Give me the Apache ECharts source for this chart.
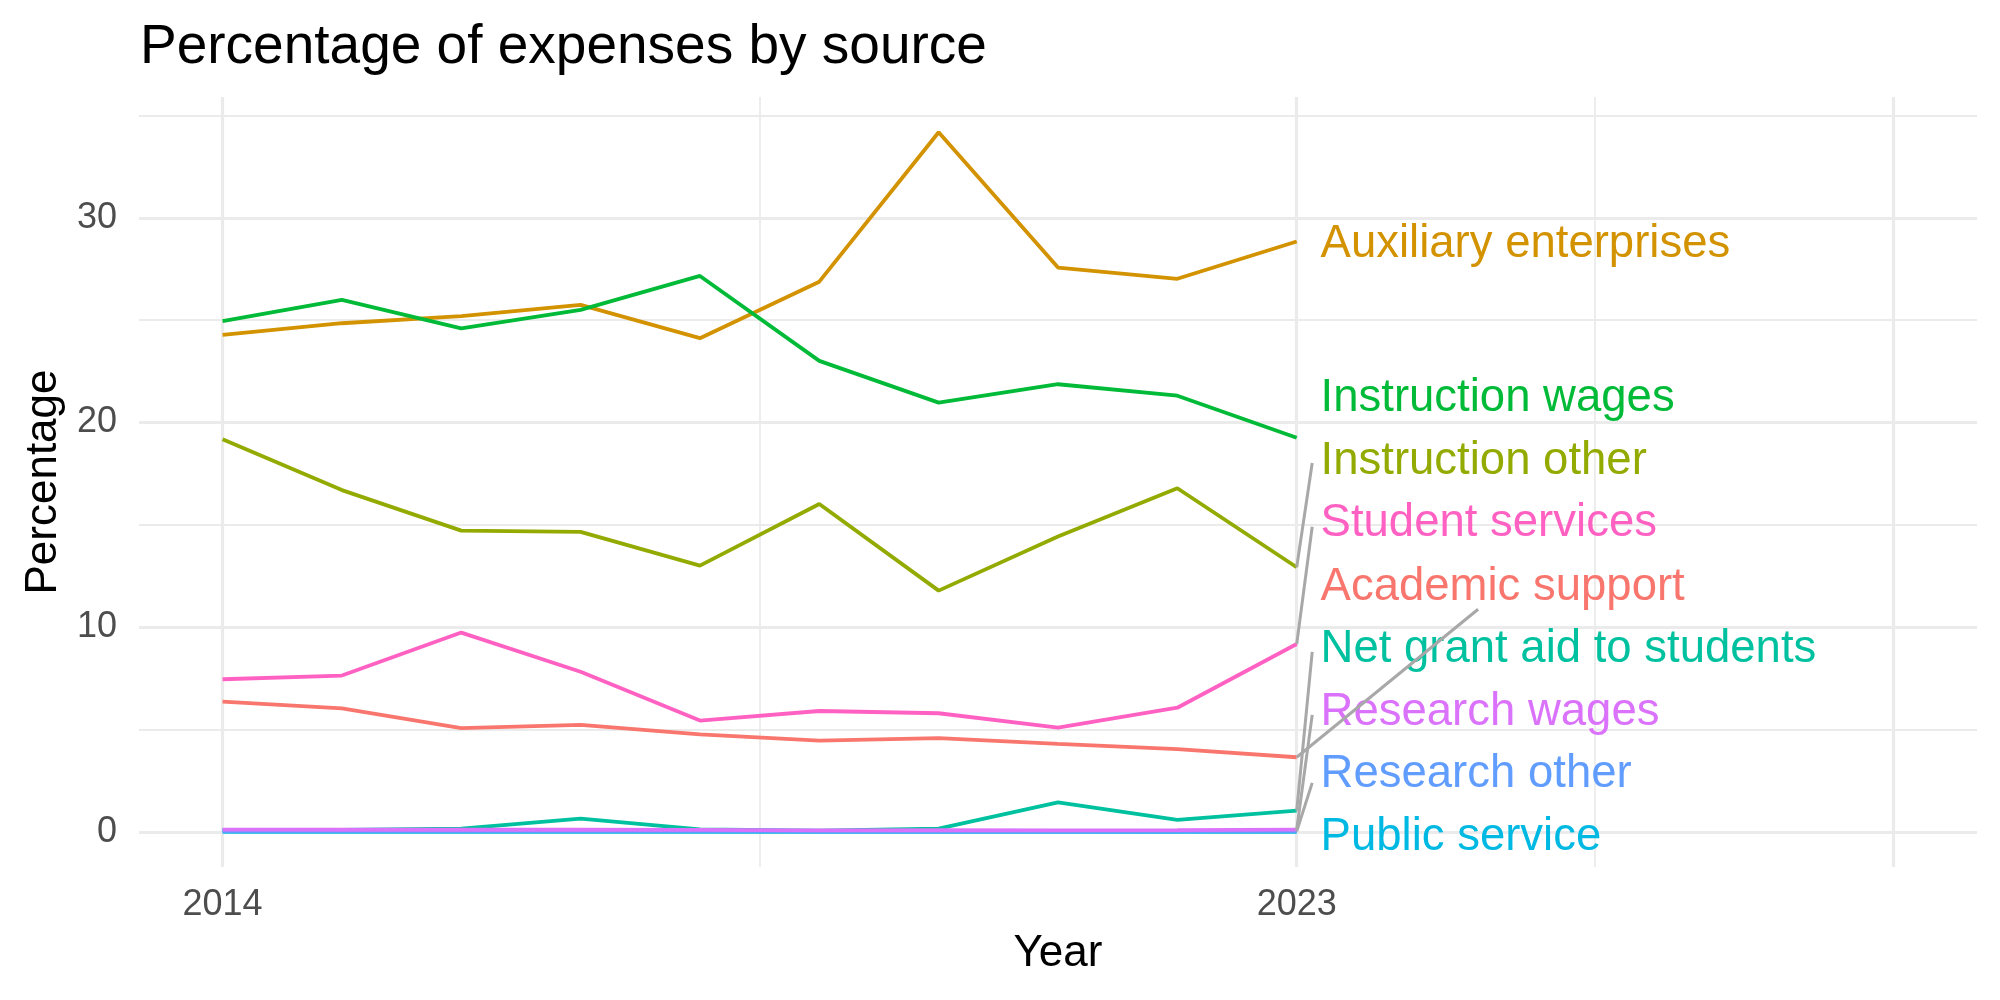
<!DOCTYPE html>
<html>
<head>
<meta charset="utf-8">
<script src="https://cdn.jsdelivr.net/npm/echarts@6/dist/echarts.min.js"></script>
<style>
  html, body { margin: 0; padding: 0; background: #fff; }
  #chart { width: 2000px; height: 1000px; }
</style>
</head>
<body>
<div id="chart"></div>
<script>
// data
const years = [2014, 2015, 2016, 2017, 2018, 2019, 2020, 2021, 2022, 2023];
const sources = [
  "Academic support", "Auxiliary enterprises", "Instruction other", "Instruction wages",
  "Net grant aid to students", "Public service", "Research other", "Research wages", "Student services"
];
const academicSupport = [6.37, 6.04, 5.07, 5.23, 4.77, 4.46, 4.58, 4.30, 4.05, 3.65];
const auxiliaryEnterprises = [24.28, 24.85, 25.2, 25.75, 24.12, 26.88, 34.18, 27.57, 27.02, 28.84];
const instructionOther = [19.18, 16.7, 14.72, 14.66, 13.01, 16.02, 11.79, 14.43, 16.79, 12.93];
const instructionWages = [24.95, 25.99, 24.6, 25.5, 27.16, 23.01, 20.97, 21.87, 21.31, 19.26];
const netGrantAid = [0.1, 0.1, 0.16, 0.65, 0.13, 0.06, 0.16, 1.45, 0.59, 1.04];
const publicService = [0.01, 0.01, 0.01, 0.01, 0.01, 0.01, 0.01, 0.01, 0.01, 0.01];
const researchOther = [0.04, 0.04, 0.04, 0.04, 0.04, 0.03, 0.03, 0.03, 0.03, 0.04];
const researchWages = [0.12, 0.11, 0.11, 0.12, 0.1, 0.08, 0.09, 0.08, 0.09, 0.12];
const studentServices = [7.46, 7.64, 9.74, 7.83, 5.44, 5.91, 5.8, 5.1, 6.07, 9.18];
const seriesValues = [
  academicSupport, auxiliaryEnterprises, instructionOther, instructionWages,
  netGrantAid, publicService, researchOther, researchWages, studentServices
];

// repelled labels (value where each label sits, and where its leader line ends)
const labelX = 2023.2;
const labelY = [11.95, 28.72, 18.1, 21.2, 8.92, -0.25, 2.8, 5.86, 15.05];
const leaderEnd = [
  [2024.52, 10.88], null, [2023.13, 18.02], null,
  [2023.13, 8.8], null, [2023.13, 2.4], [2023.13, 5.72], [2023.13, 14.91]
];

const xTicks = [2014, 2023];
const yTicks = [0, 10, 20, 30];
const xMajorGrid = [2014, 2023, 2028];
const xMinorGrid = [2018.5, 2025.5];
const yMajorGrid = [0, 10, 20, 30];
const yMinorGrid = [5, 15, 25, 35];

const colors = ["#F8766D", "#D39200", "#93AA00", "#00BA38", "#00C19F", "#00B9E3", "#619CFF", "#DB72FB", "#FF61C3"];
const font = "Liberation Sans";

const chart = echarts.init(document.getElementById("chart"));

const gridLines = [];
xMajorGrid.forEach(v => gridLines.push({ xAxis: v, lineStyle: { width: 3.2 } }));
xMinorGrid.forEach(v => gridLines.push({ xAxis: v, lineStyle: { width: 1.8 } }));
yMajorGrid.forEach(v => gridLines.push({ yAxis: v, lineStyle: { width: 3.2 } }));
yMinorGrid.forEach(v => gridLines.push({ yAxis: v, lineStyle: { width: 1.8 } }));

const series = [{
  name: "grid",
  type: "line",
  data: [],
  silent: true,
  z: 0,
  markLine: {
    z: 0,
    silent: true,
    symbol: ["none", "none"],
    label: { show: false },
    animation: false,
    lineStyle: { color: "#EBEBEB", type: "solid", opacity: 1 },
    data: gridLines
  }
}];

sources.forEach((name, i) => {
  series.push({
    name: name,
    type: "line",
    showSymbol: false,
    animation: false,
    z: 2 + i * 0.01,
    lineStyle: { width: 3.8, color: colors[i] },
    itemStyle: { color: colors[i] },
    data: years.map((y, k) => [y, seriesValues[i][k]])
  });
});

series.push({
  name: "labels",
  type: "scatter",
  symbolSize: 0,
  animation: false,
  silent: true,
  z: 4,
  itemStyle: { opacity: 1 },
  data: sources.map((name, i) => ({
    value: [labelX, labelY[i]],
    itemStyle: { color: colors[i], opacity: 1 },
    label: {
      show: true,
      formatter: name,
      position: [0, 0],
      align: "left",
      verticalAlign: "middle",
      color: colors[i],
      opacity: 1,
      fontSize: 45.5,
      fontFamily: font
    }
  }))
});

series.push({
  name: "leaders",
  type: "lines",
  coordinateSystem: "cartesian2d",
  silent: true,
  animation: false,
  z: 5,
  lineStyle: { color: "#A8A8A8", width: 3, opacity: 1 },
  data: sources.map((name, i) => leaderEnd[i] ? {
    coords: [[2023, seriesValues[i][9]], leaderEnd[i]]
  } : null).filter(d => d)
});

const option = {
  backgroundColor: "#fff",
  animation: false,
  title: {
    text: "Percentage of expenses by source",
    left: 135,
    top: 15,
    textStyle: { fontSize: 55, fontWeight: "normal", color: "#000", fontFamily: font }
  },
  grid: { left: 139, right: 23, top: 97, bottom: 133, containLabel: false },
  xAxis: {
    type: "value",
    min: 2013.3,
    max: 2028.7,
    name: "Year",
    nameLocation: "middle",
    nameGap: 65,
    nameTextStyle: { fontSize: 44, color: "#000", fontFamily: font },
    axisLine: { show: false },
    axisTick: { show: false },
    splitLine: { show: false },
    axisLabel: {
      customValues: xTicks,
      formatter: v => String(v),
      fontSize: 36,
      color: "#4D4D4D",
      fontFamily: font,
      margin: 20
    }
  },
  yAxis: {
    type: "value",
    min: -1.71,
    max: 35.9,
    name: "Percentage",
    nameLocation: "middle",
    nameGap: 71,
    nameTextStyle: { fontSize: 44, color: "#000", fontFamily: font },
    axisLine: { show: false },
    axisTick: { show: false },
    splitLine: { show: false },
    axisLabel: {
      customValues: yTicks,
      formatter: v => String(v),
      fontSize: 36,
      color: "#4D4D4D",
      fontFamily: font,
      margin: 22
    }
  },
  series: series
};

chart.setOption(option);
</script>
</body>
</html>
